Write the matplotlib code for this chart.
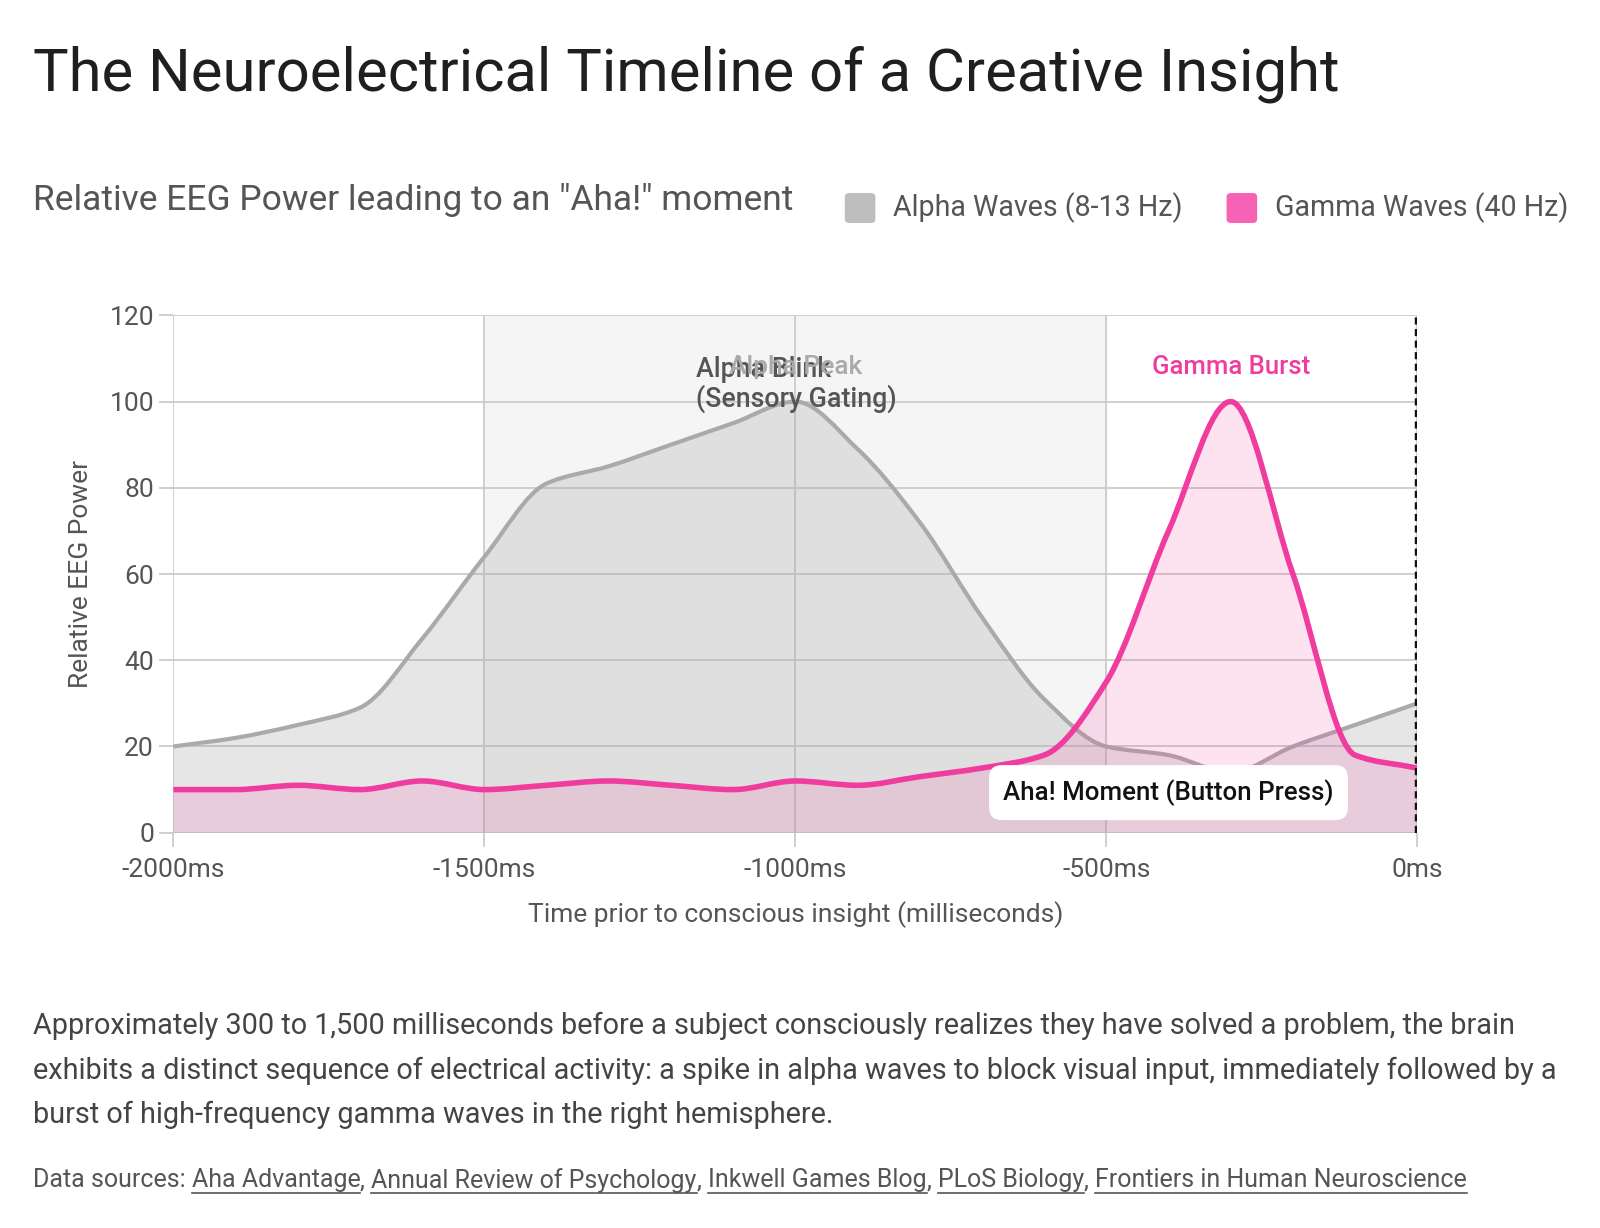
import numpy as np
import matplotlib
matplotlib.use("Agg")
import matplotlib.pyplot as plt
from matplotlib.path import Path
from matplotlib.patches import PathPatch, FancyBboxPatch

plt.rcParams['font.family'] = ['Roboto', 'DejaVu Sans']

# data
time_ms = [-2000, -1900, -1800, -1700, -1600, -1500, -1400, -1300, -1200, -1100, -1000,
           -900, -800, -700, -600, -500, -400, -300, -200, -100, 0]
alpha = [20, 22, 25, 29, 45, 64, 81, 85, 90, 95, 100,
         89, 72, 50, 31, 20, 18, 14, 20, 25, 30]
gamma = [10, 10, 11, 10, 12, 10, 11, 12, 11, 10, 12,
         11, 13, 15, 18, 35, 70, 100, 60, 18, 15]

x_ticks = [-2000, -1500, -1000, -500, 0]
x_labels = ["-2000ms", "-1500ms", "-1000ms", "-500ms", "0ms"]
y_ticks = [0, 20, 40, 60, 80, 100, 120]

sources = ["Aha Advantage", "Annual Review of Psychology", "Inkwell Games Blog",
           "PLoS Biology", "Frontiers in Human Neuroscience"]


def smooth_path(x, y, closed=False):
    # monotone cubic curve through the points, drawn as bezier segments
    x = np.asarray(x, float)
    y = np.asarray(y, float)
    h = np.diff(x)
    d = np.diff(y) / h
    m = np.zeros_like(y)
    m[0], m[-1] = d[0], d[-1]
    for i in range(1, len(x) - 1):
        if d[i - 1] * d[i] <= 0:
            m[i] = 0
        else:
            m[i] = 2 / (1 / d[i - 1] + 1 / d[i])
    verts = [(x[0], y[0])]
    codes = [Path.MOVETO]
    for i in range(len(h)):
        verts += [(x[i] + h[i] / 3, y[i] + m[i] * h[i] / 3),
                  (x[i + 1] - h[i] / 3, y[i + 1] - m[i + 1] * h[i] / 3),
                  (x[i + 1], y[i + 1])]
        codes += [Path.CURVE4] * 3
    if closed:
        verts += [(x[-1], 0), (x[0], 0), (x[0], 0)]
        codes += [Path.LINETO, Path.LINETO, Path.CLOSEPOLY]
    return Path(verts, codes)


fig = plt.figure(figsize=(16, 12.28), dpi=100)
ax = fig.add_axes([0.1084, 0.3219, 0.7774, 0.4213])

ax.axvspan(-1500, -500, color="#f5f5f5", zorder=0)

ax.add_patch(PathPatch(smooth_path(time_ms, alpha, True), facecolor="#9e9e9e", alpha=0.25,
                       edgecolor="none", zorder=2))
ax.add_patch(PathPatch(smooth_path(time_ms, alpha), facecolor="none", edgecolor="#aaaaaa",
                       lw=3, zorder=3))
ax.add_patch(PathPatch(smooth_path(time_ms, gamma, True), facecolor="#f73ea0", alpha=0.15,
                       edgecolor="none", zorder=4))
ax.add_patch(PathPatch(smooth_path(time_ms, gamma), facecolor="none", edgecolor="#f03c9e",
                       lw=4, zorder=5))

ax.axvline(0, ymin=0, ymax=1, color="#111111", lw=3.2, ls=(0, (1.6, 1.0)), zorder=6)

ax.set_xlim(-2000, 0)
ax.set_ylim(0, 120)
ax.set_xticks(x_ticks)
ax.set_xticklabels(x_labels)
ax.set_yticks(y_ticks)
ax.grid(True, color="#cccccc", lw=1.3, zorder=1)
ax.set_axisbelow(True)
for s in ax.spines.values():
    s.set_visible(False)
ax.tick_params(colors="#cccccc", width=1.3, length=10, labelcolor="#555555", labelsize=19,
               pad=4)
ax.tick_params(axis="x", pad=8)
ax.set_xlabel("Time prior to conscious insight (milliseconds)", fontsize=19, color="#555555",
              labelpad=14)
ax.set_ylabel("Relative EEG Power", fontsize=19, color="#555555", labelpad=12)

# annotations
ax.text(-1160, 104, "Alpha Blink\n(Sensory Gating)", fontsize=19.3, color="#555555",
        fontweight="medium", va="center", ha="left", linespacing=1.05, zorder=7)
ax.text(-1000, 108, "Alpha Peak", fontsize=19, color="#aaaaaa", fontweight="medium",
        ha="center", va="center", zorder=7)
ax.text(-300, 108, "Gamma Burst", fontsize=18.5, color="#f03c9e", fontweight="medium",
        ha="center", va="center", zorder=7)
ax.text(-400, 9.3, "Aha! Moment (Button Press)", fontsize=18.6, color="#111111",
        fontweight="medium", ha="center", va="center", zorder=8,
        bbox=dict(boxstyle="round,pad=0.55,rounding_size=0.5", fc="white", ec="none"))

# titles and legend
fig.text(0.0204, 0.9267, "The Neuroelectrical Timeline of a Creative Insight", fontsize=43,
         color="#1f1f1f", va="baseline")
fig.text(0.0204, 0.837, 'Relative EEG Power leading to an "Aha!" moment', fontsize=25.5,
         color="#555555", va="center")

for x0, tx, col, lab in [(0.528, 0.558, "#bdbdbd", "Alpha Waves (8-13 Hz)"),
                         (0.7666, 0.7966, "#f862b4", "Gamma Waves (40 Hz)")]:
    fig.patches.append(FancyBboxPatch((x0, 0.8184), 0.0191, 0.0244,
                                      boxstyle="round,pad=0,rounding_size=0.003",
                                      transform=fig.transFigure, fc=col, ec="none"))
    fig.text(tx, 0.8306, lab, fontsize=20.6, color="#555555", va="center")

body = ["Approximately 300 to 1,500 milliseconds before a subject consciously realizes they have solved a problem, the brain",
        "exhibits a distinct sequence of electrical activity: a spike in alpha waves to block visual input, immediately followed by a",
        "burst of high-frequency gamma waves in the right hemisphere."]
for i, line in enumerate(body):
    fig.text(0.0204, 0.1649 - i * 0.0366, line, fontsize=20.8, color="#444444", va="center")

# sources line with underlined names
renderer = fig.canvas.get_renderer()
xpos = 0.0204
ysrc = 0.039
pieces = [("Data sources: ", False)]
for i, s in enumerate(sources):
    pieces.append((s, True))
    if i < len(sources) - 1:
        pieces.append((", ", False))
for txt, under in pieces:
    t = fig.text(xpos, ysrc, txt, fontsize=18, color="#555555", va="center")
    bb = t.get_window_extent(renderer).transformed(fig.transFigure.inverted())
    if under:
        fig.lines.append(plt.Line2D([bb.x0, bb.x1], [bb.y0 - 0.0005, bb.y0 - 0.0005],
                                    transform=fig.transFigure, color="#555555", lw=1.2))
    xpos = bb.x1

fig.savefig("out.png", dpi=100, facecolor="white")
